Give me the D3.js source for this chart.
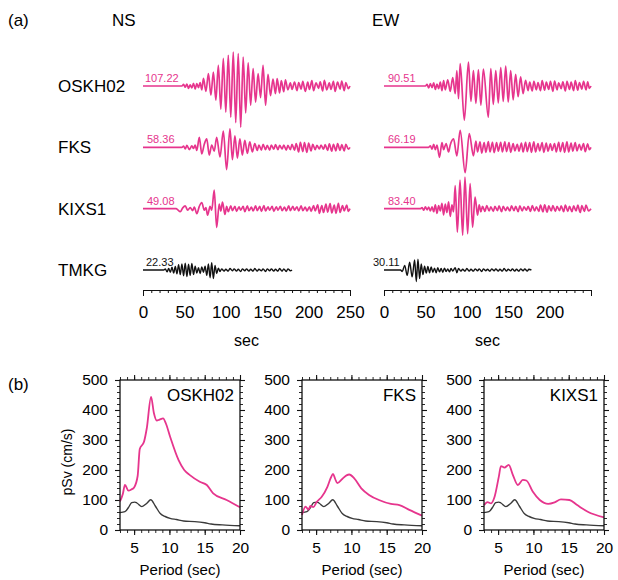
<!DOCTYPE html>
<html>
<head>
<meta charset="utf-8">
<script src="https://cdn.jsdelivr.net/npm/d3@7"></script>
<style>
body { margin: 0; background: #fff; }
text { font-family: "Liberation Sans", Arial, Helvetica, sans-serif; }
</style>
</head>
<body>
<script>
// stations and peak amplitudes (cm/s) shown next to each trace
const stations = ["OSKH02", "FKS", "KIXS1", "TMKG"];
const nsPeaks = ["107.22", "58.36", "49.08", "22.33"];
const ewPeaks = ["90.51", "66.19", "83.40", "30.11"];

// waveforms, [sec, cm/s] at the turning points
const oskNS = [[0,0],[47,0],[49,4],[51,-3],[53,5],[55,-6],[57,3],[59,-5],[61,7],[63,-8],[65,6],[67,-4],[69,9],[71,-10],
  [73,20],[76,-14],[79,32],[82,-24],[85,36],[88,-37],[91,54],[94,-60],[97,72],[100,-68],[103,80],[106,-81],[109,88],[112,-95],
  [115,84],[118,-107],[121,75],[124,-70],[127,60],[130,-50],[133,45],[136,-42],[139,32],[142,-30],[145,54],[148,-50],[151,30],
  [154,-25],[157,18],[160,-20],[162,19],[165,-18],[167,14],[170,-15],[172,16],[175,-10],[178,8],[180,-9],[183,10],[186,-12],
  [188,9],[191,-8],[193,12],[196,-14],[199,10],[201,-9],[204,14],[206,-12],[209,8],[212,-6],[214,11],[217,-13],[219,15],[222,-10],
  [225,8],[227,-9],[230,12],[232,-14],[235,10],[238,-8],[240,13],[243,-12],[245,9],[248,-7],[250,0]];
const fksNS = [[0,0],[47,0],[49,3],[51,-4],[53,5],[56,-6],[59,4],[61,-3],[63,6],[65,-8],[68,26],[71,-17],[74,8],[77,22],[80,-20],
  [83,6],[86,-10],[89,26],[93,-25],[97,42],[101,-58],[105,48],[108,-32],[111,30],[114,-28],[117,22],[120,-20],[123,18],[126,-16],
  [129,14],[132,-12],[135,10],[138,-8],[140,6],[143,-7],[145,8],[148,-6],[150,5],[153,-7],[155,6],[158,-5],[160,7],[163,-6],
  [165,5],[168,-4],[170,6],[173,-7],[175,5],[178,-6],[180,8],[183,-7],[185,10],[188,-12],[190,13],[193,-11],[195,12],[198,-13],
  [200,11],[203,-9],[205,8],[208,-6],[210,5],[213,-4],[215,6],[218,-5],[220,7],[223,-8],[225,9],[228,-10],[230,8],[233,-9],
  [235,10],[238,-8],[240,7],[243,-9],[245,8],[248,-5],[250,0]];
const kixNS = [[0,0],[40,0],[42,-3],[45,-8],[48,2],[51,7],[54,-4],[57,3],[60,-5],[62,4],[65,-13],[68,6],[71,16],[74,-4],[76,3],
  [78,-17],[81,6],[83,-4],[86,48],[89,-49],[92,12],[94,-6],[96,17],[99,-15],[101,6],[103,-8],[106,7],[108,-5],[111,6],[113,-7],
  [116,5],[118,-4],[121,6],[123,-8],[126,7],[128,-5],[131,4],[133,-6],[136,7],[138,-5],[141,6],[143,-7],[146,8],[148,-6],[151,5],
  [153,-4],[156,6],[158,-7],[161,5],[163,-4],[166,6],[168,-5],[171,4],[173,-6],[176,7],[178,-5],[181,6],[183,-4],[186,5],[188,-6],
  [191,7],[193,-5],[196,4],[198,-6],[201,5],[203,-7],[206,8],[208,-6],[211,10],[213,-12],[216,8],[218,-10],[221,12],[223,-9],
  [226,13],[228,-11],[231,9],[233,-12],[236,14],[238,-10],[241,8],[243,-6],[246,9],[248,-7],[250,0]];
const tmkNS = [[0,0],[25,0],[27,3],[29,-5],[31,4],[33,-6],[35,7],[37,-8],[39,9],[41,-10],[43,14],[45,-12],[47,16],[49,-15],
  [51,18],[53,-17],[55,15],[57,-14],[59,17],[61,-12],[63,10],[65,-8],[67,6],[69,-9],[71,8],[73,-6],[75,10],[77,-14],[79,16],
  [81,-20],[83,19],[85,-22],[87,12],[89,-9],[91,5],[93,-4],[95,3],[98,-3],[100,2],[103,-3],[105,4],[108,-2],[110,3],[113,-3],
  [115,2],[118,-4],[120,3],[123,-2],[125,3],[128,-3],[130,2],[133,-3],[135,4],[138,-3],[140,2],[143,-2],[145,3],[148,-4],
  [150,3],[153,-2],[155,3],[158,-3],[160,2],[163,-3],[165,4],[168,-3],[170,3],[173,-4],[175,3],[178,-2],[180,0]];

const oskEW = [[0,0],[50,0],[52,4],[54,-5],[56,6],[58,-4],[60,8],[62,-9],[64,5],[66,-7],[68,10],[70,-12],[72,14],[74,-10],
  [77,16],[80,-14],[83,22],[86,-20],[88,40],[90,-33],[92,58],[97,-89],[102,62],[105,-40],[108,40],[111,-45],[114,42],[117,-50],
  [120,44],[126,-81],[129,45],[132,-48],[135,40],[138,-44],[141,48],[144,-40],[147,52],[150,-42],[153,40],[156,-36],[159,30],
  [162,-28],[165,24],[168,-20],[171,15],[174,-12],[176,10],[179,-13],[181,12],[184,-10],[186,9],[189,-12],[191,14],[194,-11],
  [196,10],[199,-9],[201,12],[204,-14],[206,13],[209,-10],[211,8],[214,-7],[216,11],[219,-13],[221,12],[224,-9],[226,10],
  [229,-12],[231,14],[234,-11],[236,9],[239,-8],[241,12],[244,-10],[246,11],[248,-6],[250,0]];
const fksEW = [[0,0],[54,0],[56,4],[58,-5],[60,8],[62,-6],[64,6],[67,-26],[70,12],[72,-6],[75,10],[78,-12],[80,6],[84,22],
  [88,-22],[92,44],[98,-66],[103,36],[108,-22],[111,16],[113,-12],[116,14],[118,-15],[121,12],[123,-13],[126,15],[128,-12],
  [131,13],[133,-14],[136,12],[138,-10],[141,13],[143,-12],[146,14],[148,-11],[151,12],[153,-13],[156,10],[158,-9],[161,8],
  [163,-10],[166,11],[168,-12],[171,13],[173,-11],[176,12],[178,-13],[181,14],[183,-12],[186,10],[188,-9],[191,12],[193,-13],
  [196,11],[198,-10],[201,9],[203,-8],[206,10],[208,-12],[211,13],[213,-11],[216,12],[218,-13],[221,14],[223,-12],[226,11],
  [228,-10],[231,12],[233,-9],[236,8],[238,-7],[241,10],[243,-11],[246,9],[248,-6],[250,0]];
const kixEW = [[0,0],[44,0],[46,3],[48,-4],[50,5],[52,-3],[54,4],[56,-6],[58,5],[60,-8],[62,10],[64,-12],[66,8],[68,-6],
  [70,14],[72,-16],[74,12],[76,-10],[78,18],[80,-20],[82,10],[84,-8],[86,60],[88.6,-61],[91.8,74],[95,-69],[97.8,82],[101,-65],
  [104,65],[107,-48],[110,30],[113,-17],[115,10],[117,-8],[119,6],[122,-7],[124,8],[127,-6],[129,5],[132,-7],[134,6],[137,-5],
  [139,7],[142,-8],[144,6],[147,-5],[149,4],[152,-6],[154,7],[157,-5],[159,6],[162,-8],[164,7],[167,-6],[169,5],[172,-4],
  [174,6],[177,-7],[179,8],[182,-6],[184,5],[187,-7],[189,9],[192,-8],[194,10],[197,-9],[199,7],[202,-6],[204,8],[207,-7],
  [209,6],[212,-5],[214,7],[217,-8],[219,9],[222,-7],[224,6],[227,-8],[229,7],[232,-6],[234,9],[237,-10],[239,8],[242,-7],
  [244,9],[247,-6],[250,0]];
const tmkEW = [[0,0],[20,0],[22,-4],[25,12],[28,-14],[31,20],[34,-18],[37,26],[39,-30],[41,28],[43,-22],[45,16],[47,-12],
  [49,10],[51,-8],[53,9],[55,-7],[57,8],[59,-6],[61,5],[63,-7],[65,6],[67,-5],[69,4],[71,-6],[73,5],[75,-4],[77,3],[79,-5],
  [81,4],[83,-3],[86,6],[88,-7],[90,4],[93,-3],[95,2],[98,-3],[100,4],[103,-3],[105,2],[108,-3],[110,3],[113,-2],[115,3],
  [118,-4],[120,3],[123,-2],[125,2],[128,-3],[130,3],[133,-2],[135,3],[138,-3],[140,2],[143,-3],[145,4],[148,-3],[150,2],
  [153,-2],[155,3],[158,-3],[160,2],[163,-3],[165,3],[168,-2],[170,3],[173,-3],[175,2],[178,0]];

const nsTraces = [oskNS, fksNS, kixNS, tmkNS];
const ewTraces = [oskEW, fksEW, kixEW, tmkEW];
const timeTicks = d3.range(0, 251, 10);

// pseudo velocity response spectra, [period sec, pSv cm/s]
const tmkSpec = [[3,58],[3.7,61],[4.2,75],[4.65,91],[5.1,93],[5.4,90],[6.1,78],[6.8,89],[7.35,101],[8,80],[8.7,55],
  [9.4,45],[10.1,39],[11,35],[12,30],[13.6,28],[15,24],[15.9,20],[17.5,17],[20,14]];
const oskSpec = [[3,95],[3.4,120],[3.7,150],[4.2,131],[4.6,135],[5,142],[5.5,180],[5.8,270],[6.4,294],[6.8,340],[7.4,444],
  [7.8,390],[8.2,365],[8.6,368],[9.1,372],[9.5,355],[10.1,311],[11.3,233],[12.1,200],[12.9,183],[14.3,161],[15.3,150],
  [16.2,122],[18.1,100],[20,76]];
const fksSpec = [[3,50],[3.5,78],[3.9,68],[4.2,80],[4.6,76],[5.1,94],[5.8,111],[6.6,144],[7.1,175],[7.4,187],[7.7,170],
  [8,156],[8.7,170],[9.3,182],[9.7,185],[10.4,172],[11.4,139],[12.5,117],[13.9,100],[15.6,87],[16.8,83],[18.2,67],[20,48]];
const kixSpec = [[3,83],[3.5,93],[4,89],[4.5,111],[5.1,178],[5.4,213],[5.9,208],[6.5,217],[7.1,183],[7.8,150],[8.5,167],
  [9,165],[9.9,128],[10.9,100],[12.1,87],[13,92],[13.9,102],[15.1,100],[16.2,83],[17.7,61],[20,42]];
const specs = [oskSpec, fksSpec, kixSpec];
const specStations = ["OSKH02", "FKS", "KIXS1"];

const pink = "#e6358d";
const w = 618;
const h = 580;

const svg = d3.select("body")
  .append("svg")
  .attr("width", w)
  .attr("height", h);

// ---- (a) waveforms
svg.append("text").attr("x", 8).attr("y", 26).attr("font-size", 17).text("(a)");
svg.append("text").attr("x", 112).attr("y", 26).attr("font-size", 17).text("NS");
svg.append("text").attr("x", 372).attr("y", 26).attr("font-size", 17).text("EW");

const row = d3.scalePoint().domain(stations).range([86, 270]);
const amp = d3.scaleLinear().domain([-130, 130]).range([50, -50]);

svg.selectAll(".stn")
  .data(stations)
  .enter()
  .append("text")
  .attr("class", "stn")
  .attr("x", 58)
  .attr("y", d => row(d) + 6)
  .attr("font-size", 17)
  .text(d => d);

const columns = [
  {x: d3.scaleLinear().domain([0, 250]).range([143, 350]), traces: nsTraces, peaks: nsPeaks, labelDx: [2, 4, 4, 3], maxLabel: 250},
  {x: d3.scaleLinear().domain([0, 250]).range([384, 591]), traces: ewTraces, peaks: ewPeaks, labelDx: [4, 4, 4, -11], maxLabel: 200}
];

columns.forEach(col => {
  const line = d3.line()
    .x(d => col.x(d[0]))
    .y(d => amp(d[1]))
    .curve(d3.curveMonotoneX);

  stations.forEach((s, i) => {
    const color = s === "TMKG" ? "#111" : pink;
    const g = svg.append("g").attr("transform", "translate(0," + row(s) + ")");
    g.append("path")
      .datum(col.traces[i])
      .attr("d", line)
      .attr("fill", "none")
      .attr("stroke", color)
      .attr("stroke-width", s === "TMKG" ? 1.4 : 1.7)
      .attr("stroke-linejoin", "round");
    g.append("text")
      .attr("x", col.x(0) + col.labelDx[i])
      .attr("y", -4)
      .attr("font-size", 11)
      .attr("fill", color)
      .text(col.peaks[i]);
  });

  const axis = svg.append("g")
    .attr("transform", "translate(0,290)")
    .call(d3.axisBottom(col.x)
      .tickValues(timeTicks)
      .tickSize(3)
      .tickSizeOuter(6)
      .tickPadding(13)
      .tickFormat(d => (d % 50 === 0 && d <= col.maxLabel) ? d : ""));
  axis.attr("font-size", 17).attr("font-family", null);
  axis.selectAll("line,path").attr("stroke", "#111");

  svg.append("text")
    .attr("x", (col.x.range()[0] + col.x.range()[1]) / 2)
    .attr("y", 346)
    .attr("text-anchor", "middle")
    .attr("font-size", 16)
    .text("sec");
});

// ---- (b) response spectra
svg.append("text").attr("x", 8).attr("y", 390).attr("font-size", 17).text("(b)");

const panelLeft = d3.scalePoint().domain(specStations).range([120, 484]);
const ys = d3.scaleLinear().domain([0, 500]).range([530, 380]);
const spLine = (xs) => d3.line().x(d => xs(d[0])).y(d => ys(d[1])).curve(d3.curveMonotoneX);

specStations.forEach((s, i) => {
  const left = panelLeft(s);
  const xs = d3.scaleLinear().domain([3, 20]).range([left, left + 120]);
  const g = svg.append("g");

  const addAxis = (ax, tr, big) => {
    const a = g.append("g").attr("transform", tr).call(ax);
    a.select(".domain").remove();
    a.attr("font-size", 15.5).attr("font-family", null);
    a.selectAll("line").attr("stroke", "#111").attr("stroke-width", big ? 1.1 : 0.9);
  };
  addAxis(d3.axisBottom(xs).tickValues(d3.range(3, 21)).tickSize(3).tickFormat(""), "translate(0,530)");
  addAxis(d3.axisBottom(xs).tickValues([5, 10, 15, 20]).tickSize(5).tickPadding(7), "translate(0,530)", true);
  addAxis(d3.axisTop(xs).tickValues(d3.range(3, 21)).tickSize(3).tickFormat(""), "translate(0,380)");
  addAxis(d3.axisTop(xs).tickValues([5, 10, 15, 20]).tickSize(5).tickFormat(""), "translate(0,380)", true);
  addAxis(d3.axisLeft(ys).tickValues(d3.range(0, 501, 20)).tickSize(3).tickFormat(""), "translate(" + left + ",0)");
  addAxis(d3.axisLeft(ys).tickValues(d3.range(0, 501, 100)).tickSize(5).tickPadding(7), "translate(" + left + ",0)", true);
  addAxis(d3.axisRight(ys).tickValues(d3.range(0, 501, 20)).tickSize(3).tickFormat(""), "translate(" + (left + 120) + ",0)");
  addAxis(d3.axisRight(ys).tickValues(d3.range(0, 501, 100)).tickSize(5).tickFormat(""), "translate(" + (left + 120) + ",0)", true);

  g.append("path")
    .datum(tmkSpec)
    .attr("d", spLine(xs))
    .attr("fill", "none")
    .attr("stroke", "#3a3a3a")
    .attr("stroke-width", 1.4);
  g.append("path")
    .datum(specs[i])
    .attr("d", spLine(xs))
    .attr("fill", "none")
    .attr("stroke", pink)
    .attr("stroke-width", 1.8);

  g.append("rect")
    .attr("x", left)
    .attr("y", 380)
    .attr("width", 120)
    .attr("height", 150)
    .attr("fill", "none")
    .attr("stroke", "#111")
    .attr("stroke-width", 1.3);

  g.append("text")
    .attr("x", left + 114)
    .attr("y", 401)
    .attr("text-anchor", "end")
    .attr("font-size", 17)
    .text(s);

  g.append("text")
    .attr("x", left + 60)
    .attr("y", 575)
    .attr("text-anchor", "middle")
    .attr("font-size", 15)
    .text("Period (sec)");
});

svg.append("text")
  .attr("transform", "translate(72,462) rotate(-90)")
  .attr("text-anchor", "middle")
  .attr("font-size", 14)
  .text("pSv (cm/s)");
</script>
</body>
</html>
